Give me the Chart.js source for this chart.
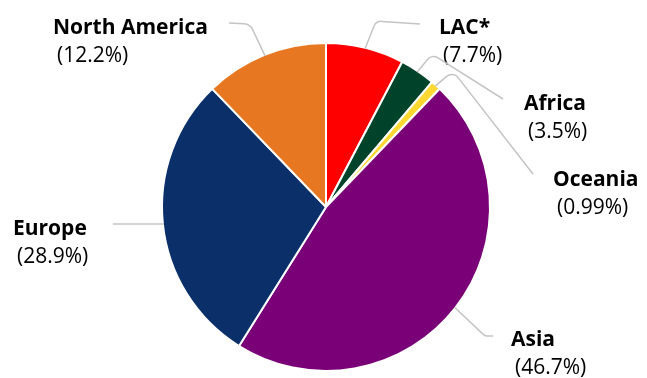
<!DOCTYPE html>
<html>
<head>
<meta charset="utf-8">
<script src="https://cdn.jsdelivr.net/npm/chart.js@4"></script>
<style>
  html, body { margin: 0; padding: 0; background: #ffffff; }
  #wrap { width: 647px; height: 378px; position: relative; }
</style>
</head>
<body>
<div id="wrap"><canvas id="c" width="647" height="378"></canvas></div>
<script>
// ---- data ----
const categories = ['LAC*', 'Africa', 'Oceania', 'Asia', 'Europe', 'North America'];
const shares = [7.7, 3.5, 0.99, 46.7, 28.9, 12.2];
const shareLabels = ['(7.7%)', '(3.5%)', '(0.99%)', '(46.7%)', '(28.9%)', '(12.2%)'];
const sliceColors = ['#FF0000', '#00432B', '#FFD932', '#790077', '#0A2F69', '#E87722'];

// ---- label layout (knee, end of leader, text position) ----
const labelLayout = [
  { knee: [376, 21], end: [420, 24], tx: 439, ty: 28, radius: 8 },
  { knee: [432, 54], end: [503, 99], tx: 524, ty: 104, radius: 8 },
  { knee: [453, 71], end: [533, 174], tx: 553, ty: 180, radius: 8 },
  { knee: [485, 336], end: [493, 336], tx: 511, ty: 340, radius: 6 },
  { knee: null, end: [113, 224], tx: 13, ty: 229, radius: 0 },
  { knee: [250, 24], end: [229, 23], tx: 53, ty: 28, radius: 10 }
];

const labelPlugin = {
  id: 'pieLabels',
  afterDraw(chart) {
    const ctx = chart.ctx;
    const meta = chart.getDatasetMeta(0);
    ctx.save();
    meta.data.forEach((arc, i) => {
      const p = arc.getProps(['x', 'y', 'startAngle', 'endAngle', 'outerRadius'], true);
      const mid = (p.startAngle + p.endAngle) / 2;
      const sx = p.x + Math.cos(mid) * (p.outerRadius - 1);
      const sy = p.y + Math.sin(mid) * (p.outerRadius - 1);
      const L = labelLayout[i];
      ctx.beginPath();
      ctx.strokeStyle = '#C4C4C4';
      ctx.lineWidth = 1.5;
      ctx.moveTo(sx, sy);
      if (L.knee) {
        ctx.arcTo(L.knee[0], L.knee[1], L.end[0], L.end[1], L.radius);
      }
      ctx.lineTo(L.end[0], L.end[1]);
      ctx.stroke();

      ctx.fillStyle = '#000000';
      ctx.textBaseline = 'middle';
      ctx.textAlign = 'left';
      ctx.font = 'bold 21px "Open Sans"';
      ctx.fillText(categories[i], L.tx, L.ty);
      ctx.font = '21px "Open Sans"';
      ctx.fillText(shareLabels[i], L.tx + 4, L.ty + 28);
    });
    ctx.restore();
  }
};

new Chart(document.getElementById('c'), {
  type: 'pie',
  data: {
    labels: categories,
    datasets: [{
      data: shares,
      backgroundColor: sliceColors,
      borderColor: '#ffffff',
      borderWidth: 2
    }]
  },
  options: {
    responsive: false,
    animation: false,
    layout: { padding: { top: 42, bottom: 6, left: 5, right: 0 } },
    plugins: {
      legend: { display: false },
      tooltip: { enabled: false }
    }
  },
  plugins: [labelPlugin]
});
</script>
</body>
</html>
